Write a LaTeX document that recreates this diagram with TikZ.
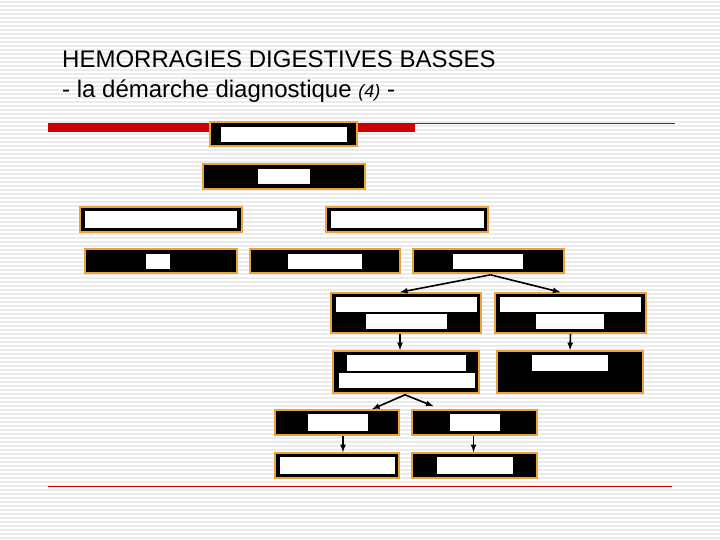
\documentclass[tikz,border=0pt]{standalone}
\usepackage{fontspec}
\setmainfont{Liberation Sans}
\usetikzlibrary{calc}
\definecolor{obord}{HTML}{E8A33A}
\definecolor{rbar}{HTML}{CC0000}
\tikzset{box/.style={fill=black,draw=obord,line width=1.6pt,inner sep=0pt},
wbox/.style={fill=white,draw=none,inner sep=0pt},
arr/.style={-latex,line width=1.6pt}}
\newcommand{\bx}[6][box]{\node[#1,minimum width={(#5-#3)*1pt},minimum height={(#6-#4)*1pt}] (#2) at ({(#3+#5)/2},{(#4+#6)/2}) {};}
\begin{document}
\begin{tikzpicture}[x=1pt,y=-1pt]
\useasboundingbox (0,0) rectangle (720,540);
\fill[white] (0,0) rectangle (720,540);
\foreach \k in {2,6,...,538} \draw[gray!16,line width=1.2pt] (0,\k) -- (720,\k);
\node[anchor=base west,font=\fontsize{24}{28}\selectfont,inner sep=0pt] (t1) at (62,68) {HEMORRAGIES DIGESTIVES BASSES};
\node[anchor=base west,font=\fontsize{24}{28}\selectfont,inner sep=0pt] (t2) at (62,98) {- la démarche diagnostique {\fontsize{18}{20}\selectfont\itshape(4)} -};
\fill[rbar] (48,123) rectangle (415,132);
\draw[rbar,line width=0.8pt] (415,123) -- (675,123);
\draw[rbar,line width=0.8pt] (48,486) -- (672,486);
\bx{A}{210}{122}{357}{146}\bx[wbox]{Aw}{221}{127}{347}{142}
\bx{B}{203}{164}{365}{189}\bx[wbox]{Bw}{258}{169}{310}{184}
\bx{C}{80}{207}{242}{232}\bx[wbox]{Cw}{85}{211}{237}{228}
\bx{D}{326}{207}{488}{232}\bx[wbox]{Dw}{331}{211}{484}{228}
\bx{E}{85}{249}{237}{273}\bx[wbox]{Ew}{146}{254}{170}{269}
\bx{F}{250}{249}{400}{273}\bx[wbox]{Fw}{288}{254}{362}{269}
\bx{G}{413}{249}{564}{273}\bx[wbox]{Gw}{453}{254}{523}{269}
\bx{H}{331}{293}{481}{333}\bx[wbox]{Hw}{336}{297}{477}{312}\bx[wbox]{Hv}{366}{314}{447}{329}
\bx{I}{495}{293}{646}{333}\bx[wbox]{Iw}{500}{297}{641}{312}\bx[wbox]{Iv}{536}{314}{604}{329}
\bx{J}{333}{351}{479}{393}\bx[wbox]{Jw}{347}{355}{466}{371}\bx[wbox]{Jv}{339}{373}{475}{388}
\bx{K}{497}{351}{643}{393}\bx[wbox]{Kw}{532}{355}{608}{371}
\bx{L}{275}{410}{399}{435}\bx[wbox]{Lw}{308}{414}{368}{431}
\bx{M}{412}{410}{537}{435}\bx[wbox]{Mw}{450}{414}{500}{431}
\bx{N}{275}{453}{399}{478}\bx[wbox]{Nw}{280}{457}{395}{474}
\bx{O}{412}{453}{537}{478}\bx[wbox]{Ow}{437}{457}{513}{474}
\coordinate (g) at ($(G.south)+(2,1)$);
\draw[arr] (g) -- ($(H.north)+(-6,0)$);
\draw[arr] (g) -- ($(I.north)+(-10,0)$);
\draw[arr] ($(H.south)+(-6,0)$) -- ($(J.north)+(-6,0)$);
\draw[arr] (I.south) -- (K.north);
\coordinate (j) at ($(J.south)+(-1,1)$);
\draw[arr] (j) -- ($(L.north)+(35,0)$);
\draw[arr] (j) -- ($(M.north)+(-41,-3)$);
\draw[arr] ($(L.south)+(6,0)$) -- ($(N.north)+(6,0)$);
\draw[arr] ($(M.south)+(-1,0)$) -- ($(O.north)+(-1,0)$);
\end{tikzpicture}
\end{document}
